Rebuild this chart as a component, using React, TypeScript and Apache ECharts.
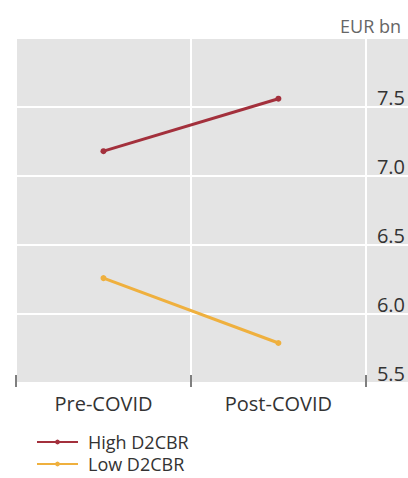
import React, { useEffect, useRef } from "react";
import * as echarts from "echarts";

const categories = ["Pre-COVID", "Post-COVID"];
const highD2CBR = [7.18, 7.56];
const lowD2CBR = [6.26, 5.79];
const seriesNames = ["High D2CBR", "Low D2CBR"];
const unitLabel = "EUR bn";
const yMin = 5.5;
const yMax = 8.0;
const yStep = 0.5;

const FONT = "'Open Sans', sans-serif";
const BG = "#e4e4e4";

export default function App() {
  const ref = useRef<HTMLDivElement>(null);
  useEffect(() => {
    if (!ref.current) return;
    const chart = echarts.init(ref.current, undefined, { renderer: "svg" });
    const legendBase = {
      left: 36,
      itemWidth: 41,
      itemHeight: 6,
      padding: 0,
      textStyle: { fontFamily: FONT, fontSize: 18, lineHeight: 18, color: "#333", padding: [0, 0, 0, 5] },
    };
    chart.setOption({
      animation: false,
      textStyle: { fontFamily: FONT },
      title: {
        text: unitLabel,
        right: 2,
        top: 12,
        textStyle: { fontFamily: FONT, fontSize: 18, fontWeight: "normal", color: "#666" },
      },
      grid: [
        { left: 16, right: 41, top: 38, bottom: 95, show: true, backgroundColor: BG, borderWidth: 0 },
        { left: 367, right: 0, top: 38, bottom: 95, show: true, backgroundColor: BG, borderWidth: 0 },
      ],
      xAxis: [
        {
          type: "category",
          gridIndex: 0,
          data: categories,
          offset: -8,
          axisLine: { show: false },
          axisTick: { show: true, length: 12, lineStyle: { color: "#555", width: 1.5 } },
          axisLabel: { color: "#333", fontSize: 20, fontFamily: FONT, margin: 18 },
          splitLine: { show: true, lineStyle: { color: "#fff", width: 2 } },
        },
        {
          type: "category",
          gridIndex: 1,
          data: [""],
          axisLine: { show: false },
          axisTick: { show: false },
          axisLabel: { show: false },
          splitLine: { show: false },
        },
      ],
      yAxis: [
        {
          type: "value",
          gridIndex: 0,
          position: "right",
          min: yMin,
          max: yMax,
          interval: yStep,
          axisLine: { show: false },
          axisTick: { show: false },
          splitLine: { show: true, lineStyle: { color: "#fff", width: 2 } },
          axisLabel: {
            color: "#333",
            fontSize: 20,
            fontFamily: FONT,
            margin: 11,
            verticalAlign: "bottom",
            formatter: (v: number) => (v >= yMax ? "" : v.toFixed(1)),
          },
        },
        {
          type: "value",
          gridIndex: 1,
          min: yMin,
          max: yMax,
          interval: yStep,
          axisLine: { show: false },
          axisTick: { show: false },
          axisLabel: { show: false },
          splitLine: { show: true, lineStyle: { color: "#fff", width: 2 } },
        },
      ],
      legend: [
        { ...legendBase, top: 433, data: [seriesNames[0]] },
        { ...legendBase, top: 455, data: [seriesNames[1]] },
      ],
      series: [
        {
          name: seriesNames[0],
          type: "line",
          xAxisIndex: 0,
          yAxisIndex: 0,
          data: highD2CBR,
          symbol: "circle",
          symbolSize: 6,
          color: "#a3303c",
          lineStyle: { width: 3, color: "#a3303c" },
        },
        {
          name: seriesNames[1],
          type: "line",
          xAxisIndex: 0,
          yAxisIndex: 0,
          data: lowD2CBR,
          symbol: "circle",
          symbolSize: 6,
          color: "#efb03e",
          lineStyle: { width: 3, color: "#efb03e" },
        },
      ],
    });
    return () => chart.dispose();
  }, []);
  return <div ref={ref} style={{ width: 408, height: 478, position: "absolute", left: 0, top: 0 }} />;
}
